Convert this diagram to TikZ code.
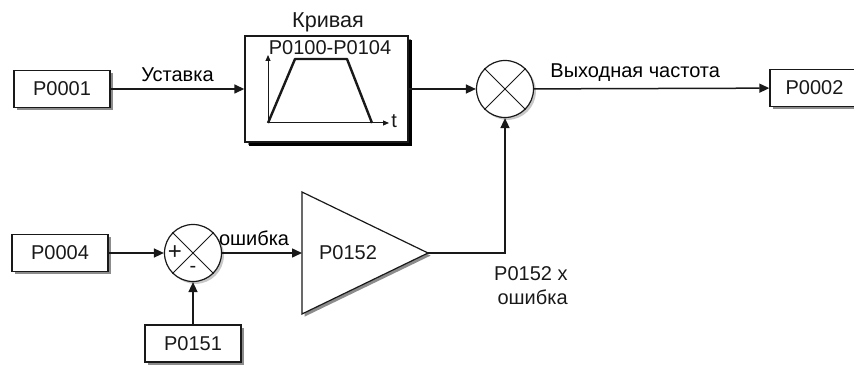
\documentclass[tikz,border=0pt]{standalone}
\usepackage{fontspec}
\setmainfont{Liberation Sans}
\usetikzlibrary{arrows.meta,positioning,shadows}
\definecolor{CtlInk}{RGB}{25,25,25}
\definecolor{CtlShadow}{RGB}{140,140,140}
\definecolor{CtlSoftShadow}{RGB}{200,200,200}
\tikzset{
  ctl/box/.style={
    draw=CtlInk,
    line width=0.7pt,
    fill=white,
    align=center,
    text=CtlInk,
    minimum width=48pt,
    minimum height=18.5pt,
    inner sep=2pt,
    drop shadow={shadow xshift=1.4pt,shadow yshift=-1.4pt,fill=CtlShadow,opacity=1}
  },
  ctl/sum/.style={
    circle,
    draw=CtlInk,
    line width=0.6pt,
    fill=white,
    minimum size=28.5pt,
    inner sep=0pt,
    drop shadow={shadow xshift=1.2pt,shadow yshift=-1.2pt,fill=CtlSoftShadow,opacity=1}
  },
  ctl/cross/.style={line width=0.45pt, draw=CtlInk},
  ctl/arrow/.style={-{Triangle[length=5pt,width=4.5pt]}, line width=0.75pt, draw=CtlInk},
  ctl/axis/.style={-{Triangle[length=3pt,width=2.5pt]}, line width=0.5pt, draw=CtlInk},
  ctl/label/.style={text=CtlInk, inner sep=0pt}
}

\begin{document}
\begin{tikzpicture}[x=0.5pt,y=-0.5pt]
  \useasboundingbox (0,0) rectangle (854,368);
  % upper path
  \node[ctl/box] (p0001) at (62,89) {P0001};
  \node[ctl/box,minimum width=81.5pt,minimum height=53pt,
        drop shadow={shadow xshift=2.2pt,shadow yshift=-2.2pt,fill=black,opacity=1}] (ramp) at (326.5,89) {};
  \node[ctl/label,anchor=base,font=\fontsize{10.8}{13}\selectfont] (ramptitle) at (328,27.5) {Кривая};
  \node[ctl/label,anchor=base] (rampparam) at (330,55) {P0100-P0104};
  \coordinate (origin) at (268,123);
  \coordinate (ytop) at (268,55);
  \coordinate (xend) at (389,123);
  \draw[ctl/axis] (origin) -- (ytop);
  \draw[ctl/axis] (origin) -- (xend);
  \node[ctl/label,anchor=base west] (taxis) at (391,128) {t};
  \draw[line width=1.2pt,draw=CtlInk,line join=round] (origin) -- (295,59) -- (347,59) -- (372,123);
  \node[ctl/sum] (mult) at (505,89) {};
  \draw[ctl/cross] (mult.north west) -- (mult.south east);
  \draw[ctl/cross] (mult.north east) -- (mult.south west);
  \node[ctl/box,minimum width=44.5pt] (p0002) at (814.5,88) {P0002};
  \draw[ctl/arrow] (p0001) -- node[above] (setlbl) {Уставка} (ramp);
  \draw[ctl/arrow] (ramp) -- (mult);
  \draw[ctl/arrow] (mult) -- node[above,pos=0.43] (outlbl) {Выходная частота} (p0002);
  % lower path
  \node[ctl/box] (p0004) at (60,253) {P0004};
  \node[ctl/sum] (sum) at (193,253) {};
  \draw[ctl/cross] (sum.north west) -- (sum.south east);
  \draw[ctl/cross] (sum.north east) -- (sum.south west);
  \node[ctl/label,font=\large] (plus) at (175,253) {+};
  \node[ctl/label] (minus) at (193,269) {-};
  \node[ctl/box] (p0151) at (193,343.5) {P0151};
  \coordinate (ampin) at (302,253);
  \coordinate (ampout) at (428,253);
  \path[draw=CtlInk,line width=0.6pt,fill=white,
        drop shadow={shadow xshift=1.3pt,shadow yshift=-1.3pt,fill=CtlShadow,opacity=1}]
    (302,192) -- (ampout) -- (302,314) -- cycle;
  \node[ctl/label] (amplbl) at (348,253) {P0152};
  \draw[ctl/arrow] (p0004) -- (sum);
  \draw[ctl/arrow] (p0151) -- (sum);
  \draw[ctl/arrow] (sum) -- node[above,pos=0.4] (errlbl) {ошибка} (ampin);
  \draw[ctl/arrow] (ampout) -| (mult.south);
  \node[ctl/label,align=right,anchor=north east] (prodlbl) at (568,266) {P0152 x\\ошибка};
\end{tikzpicture}
\end{document}
